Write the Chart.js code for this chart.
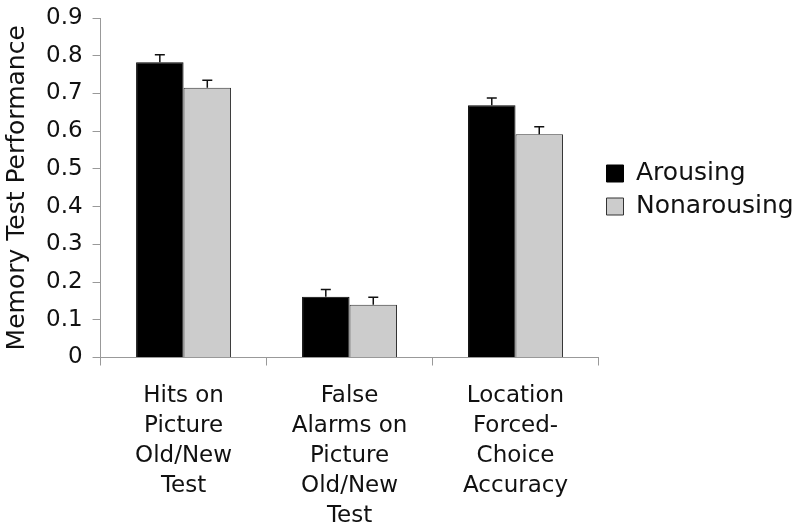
<!DOCTYPE html>
<html lang="en">
<head>
    <meta charset="UTF-8">
    <title>Memory Test Performance</title>
    <script src="https://cdn.jsdelivr.net/npm/chart.js"></script>
    <style>
        body { margin: 0; background: #fff; }
        #memChart { display: block; }
    </style>
</head>
<body>
    <canvas id="memChart" width="800" height="531"></canvas>
    <script>
        // Values
        const categories = [
            ['Hits on', 'Picture', 'Old/New', 'Test'],
            ['False', 'Alarms on', 'Picture', 'Old/New', 'Test'],
            ['Location', 'Forced-', 'Choice', 'Accuracy']
        ];
        const arousing = [0.783, 0.161, 0.669];
        const nonarousing = [0.715, 0.140, 0.592];
        const arousingErr = [0.020, 0.019, 0.019];
        const nonarousingErr = [0.020, 0.020, 0.020];
        const yTicks = [0, 0.1, 0.2, 0.3, 0.4, 0.5, 0.6, 0.7, 0.8, 0.9];

        const fontFamily = '"DejaVu Sans", Verdana, sans-serif';

        // upward-only error bars, drawn through the y scale
        const errorBars = {
            id: 'errorBars',
            afterDatasetsDraw(chart) {
                const ctx = chart.ctx;
                const yScale = chart.scales.y;
                ctx.save();
                ctx.strokeStyle = '#111';
                ctx.lineWidth = 1.5;
                chart.data.datasets.forEach((ds, i) => {
                    const meta = chart.getDatasetMeta(i);
                    meta.data.forEach((bar, j) => {
                        const top = yScale.getPixelForValue(ds.data[j] + ds.errors[j]);
                        ctx.beginPath();
                        ctx.moveTo(bar.x, bar.y);
                        ctx.lineTo(bar.x, top);
                        ctx.moveTo(bar.x - 5, top);
                        ctx.lineTo(bar.x + 5, top);
                        ctx.stroke();
                    });
                });
                ctx.restore();
            }
        };

        const ctx = document.getElementById('memChart').getContext('2d');
        const memChart = new Chart(ctx, {
            type: 'bar',
            data: {
                labels: categories,
                datasets: [
                    {
                        label: 'Arousing',
                        data: arousing,
                        errors: arousingErr,
                        backgroundColor: '#000000',
                        borderColor: '#000000',
                        borderWidth: 1
                    },
                    {
                        label: 'Nonarousing',
                        data: nonarousing,
                        errors: nonarousingErr,
                        backgroundColor: '#cccccc',
                        borderColor: '#333333',
                        borderWidth: 1
                    }
                ]
            },
            options: {
                responsive: false,
                animation: false,
                categoryPercentage: 0.572,
                barPercentage: 1.0,
                layout: {
                    padding: { top: 0, right: 2, left: 0, bottom: -16 }
                },
                plugins: {
                    legend: {
                        position: 'right',
                        align: 'start',
                        title: {
                            display: true,
                            text: ' ',
                            color: 'rgba(0,0,0,0)',
                            padding: { top: 0, bottom: 123 },
                            font: { family: fontFamily, size: 25 }
                        },
                        labels: {
                            color: '#111',
                            boxWidth: 17,
                            boxHeight: 17,
                            padding: 8,
                            font: { family: fontFamily, size: 25 }
                        }
                    },
                    tooltip: { enabled: false }
                },
                scales: {
                    x: {
                        offset: true,
                        grid: {
                            offset: true,
                            drawOnChartArea: false,
                            drawTicks: true,
                            tickLength: 8,
                            color: '#999'
                        },
                        border: { color: '#999', width: 1 },
                        ticks: {
                            color: '#111',
                            padding: 16,
                            maxRotation: 0,
                            autoSkip: false,
                            font: { family: fontFamily, size: 23, lineHeight: 1.3 }
                        }
                    },
                    y: {
                        min: 0,
                        max: 0.9,
                        afterBuildTicks(axis) {
                            axis.ticks = yTicks.map(v => ({ value: v }));
                        },
                        grid: {
                            drawOnChartArea: false,
                            drawTicks: true,
                            tickLength: 8,
                            color: '#999'
                        },
                        border: { color: '#999', width: 1 },
                        ticks: {
                            color: '#111',
                            padding: 10,
                            font: { family: fontFamily, size: 23, lineHeight: 0.7 }
                        },
                        title: {
                            display: true,
                            text: 'Memory Test Performance',
                            color: '#111',
                            padding: { top: 2, bottom: 4 },
                            font: { family: fontFamily, size: 25 }
                        }
                    }
                }
            },
            plugins: [errorBars]
        });
    </script>
</body>
</html>
